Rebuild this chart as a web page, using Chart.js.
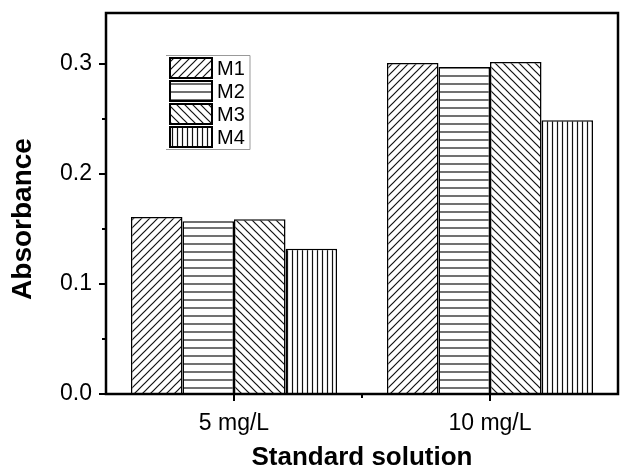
<!DOCTYPE html>
<html>
<head>
<meta charset="utf-8">
<script src="https://cdn.jsdelivr.net/npm/chart.js@4.4.1/dist/chart.umd.min.js"></script>
<style>
  html, body { margin: 0; padding: 0; background: #fff; }
  #wrap { width: 620px; height: 469px; }
</style>
</head>
<body>
<div id="wrap"><canvas id="chart" width="620" height="469"></canvas></div>
<script>
// data
const categories = ['5 mg/L', '10 mg/L']
const seriesNames = ['M1', 'M2', 'M3', 'M4']
const m1 = [0.161, 0.301]
const m2 = [0.157, 0.2975]
const m3 = [0.159, 0.302]
const m4 = [0.132, 0.249]
const yTicks = [0, 0.05, 0.1, 0.15, 0.2, 0.25, 0.3]
const yLabels = ['0.0', '', '0.1', '', '0.2', '', '0.3']
const xTitle = 'Standard solution'
const yTitle = 'Absorbance'

const FONT = '"Liberation Sans", Arial, sans-serif'

// hatch fills
function hatch(kind) {
  const size = kind === 'v' ? 5 : 8
  const c = document.createElement('canvas')
  c.width = size; c.height = size
  const g = c.getContext('2d')
  g.fillStyle = '#fff'
  g.fillRect(0, 0, size, size)
  g.strokeStyle = '#111'
  g.lineWidth = 1.2
  g.beginPath()
  if (kind === 'fwd') {
    g.moveTo(-1, size + 1); g.lineTo(size + 1, -1)
    g.moveTo(-1, 1); g.lineTo(1, -1)
    g.moveTo(size - 1, size + 1); g.lineTo(size + 1, size - 1)
  } else if (kind === 'back') {
    g.moveTo(-1, -1); g.lineTo(size + 1, size + 1)
    g.moveTo(size - 1, -1); g.lineTo(size + 1, 1)
    g.moveTo(-1, size - 1); g.lineTo(1, size + 1)
  } else if (kind === 'h') {
    g.moveTo(0, size / 2); g.lineTo(size, size / 2)
  } else {
    g.moveTo(size / 2, 0); g.lineTo(size / 2, size)
  }
  g.stroke()
  return g.createPattern(c, 'repeat')
}

const fills = [hatch('fwd'), hatch('h'), hatch('back'), hatch('v')]

// frame, tick marks, axis titles and in-plot legend
const framePlugin = {
  id: 'frame',
  afterDraw(chart) {
    const { ctx, chartArea: a, scales } = chart
    ctx.save()
    ctx.strokeStyle = '#000'
    ctx.lineWidth = 2.5
    ctx.strokeRect(a.left, a.top, a.right - a.left, a.bottom - a.top)

    ctx.lineWidth = 2
    ctx.beginPath()
    yTicks.forEach((v, i) => {
      const y = Math.round(scales.y.getPixelForValue(v))
      const len = yLabels[i] ? 7 : 4
      ctx.moveTo(a.left, y); ctx.lineTo(a.left - len, y)
    })
    const xs = categories.map((c, i) => scales.x.getPixelForValue(i))
    xs.forEach(x => { ctx.moveTo(Math.round(x), a.bottom); ctx.lineTo(Math.round(x), a.bottom + 7) })
    const mid = (xs[0] + xs[1]) / 2
    ctx.moveTo(Math.round(mid), a.bottom); ctx.lineTo(Math.round(mid), a.bottom + 4)
    ctx.stroke()

    // axis titles
    ctx.fillStyle = '#000'
    ctx.textAlign = 'center'
    ctx.textBaseline = 'middle'
    ctx.font = 'bold 26px ' + FONT
    ctx.fillText(xTitle, (a.left + a.right) / 2, 458)
    ctx.save()
    ctx.translate(23, 219)
    ctx.rotate(-Math.PI / 2)
    ctx.font = 'bold 28px ' + FONT
    ctx.fillText(yTitle, 0, 0)
    ctx.restore()

    // legend
    const lx = 166, ly = 55, sw = 42, sh = 20
    ctx.strokeStyle = '#999'
    ctx.lineWidth = 1
    ctx.beginPath()
    ctx.moveTo(lx, ly + 0.5); ctx.lineTo(lx + 84, ly + 0.5)
    ctx.lineTo(lx + 84, ly + 94.5); ctx.lineTo(lx, ly + 94.5)
    ctx.stroke()
    seriesNames.forEach((name, i) => {
      const y = ly + 3 + i * 23
      ctx.fillStyle = fills[i]
      ctx.fillRect(lx + 4, y, sw, sh)
      ctx.strokeStyle = '#000'
      ctx.lineWidth = 2
      ctx.strokeRect(lx + 4, y, sw, sh)
      ctx.fillStyle = '#000'
      ctx.font = '20px ' + FONT
      ctx.textBaseline = 'middle'
      ctx.textAlign = 'left'
      ctx.fillText(name, lx + 51, y + sh / 2 + 1)
    })
    ctx.restore()
  }
}

const seriesData = [m1, m2, m3, m4]

new Chart(document.getElementById('chart'), {
  type: 'bar',
  data: {
    labels: categories,
    datasets: seriesNames.map((name, i) => ({
      label: name,
      data: seriesData[i],
      backgroundColor: fills[i],
      borderColor: '#000',
      borderWidth: 1.5,
      barPercentage: 1,
      categoryPercentage: 0.805
    }))
  },
  options: {
    responsive: false,
    animation: false,
    layout: { padding: { top: 13, right: 2, bottom: 0, left: 0 } },
    plugins: { legend: { display: false }, tooltip: { enabled: false } },
    scales: {
      x: {
        grid: { display: false, drawTicks: false },
        border: { display: false },
        ticks: { color: '#000', font: { family: FONT, size: 23 }, padding: 16 },
        afterFit(s) { s.height = 75; s.paddingLeft = 0; s.paddingRight = 0 }
      },
      y: {
        min: 0,
        max: 0.3465,
        afterBuildTicks(s) { s.ticks = yTicks.map(v => ({ value: v })) },
        grid: { display: false, drawTicks: false },
        border: { display: false },
        ticks: {
          color: '#000', font: { family: FONT, size: 23 }, padding: 14,
          callback: (v, i) => yLabels[i]
        },
        afterFit(s) { s.width = 106; s.paddingTop = 0; s.paddingBottom = 0 }
      }
    }
  },
  plugins: [framePlugin]
})
</script>
</body>
</html>
